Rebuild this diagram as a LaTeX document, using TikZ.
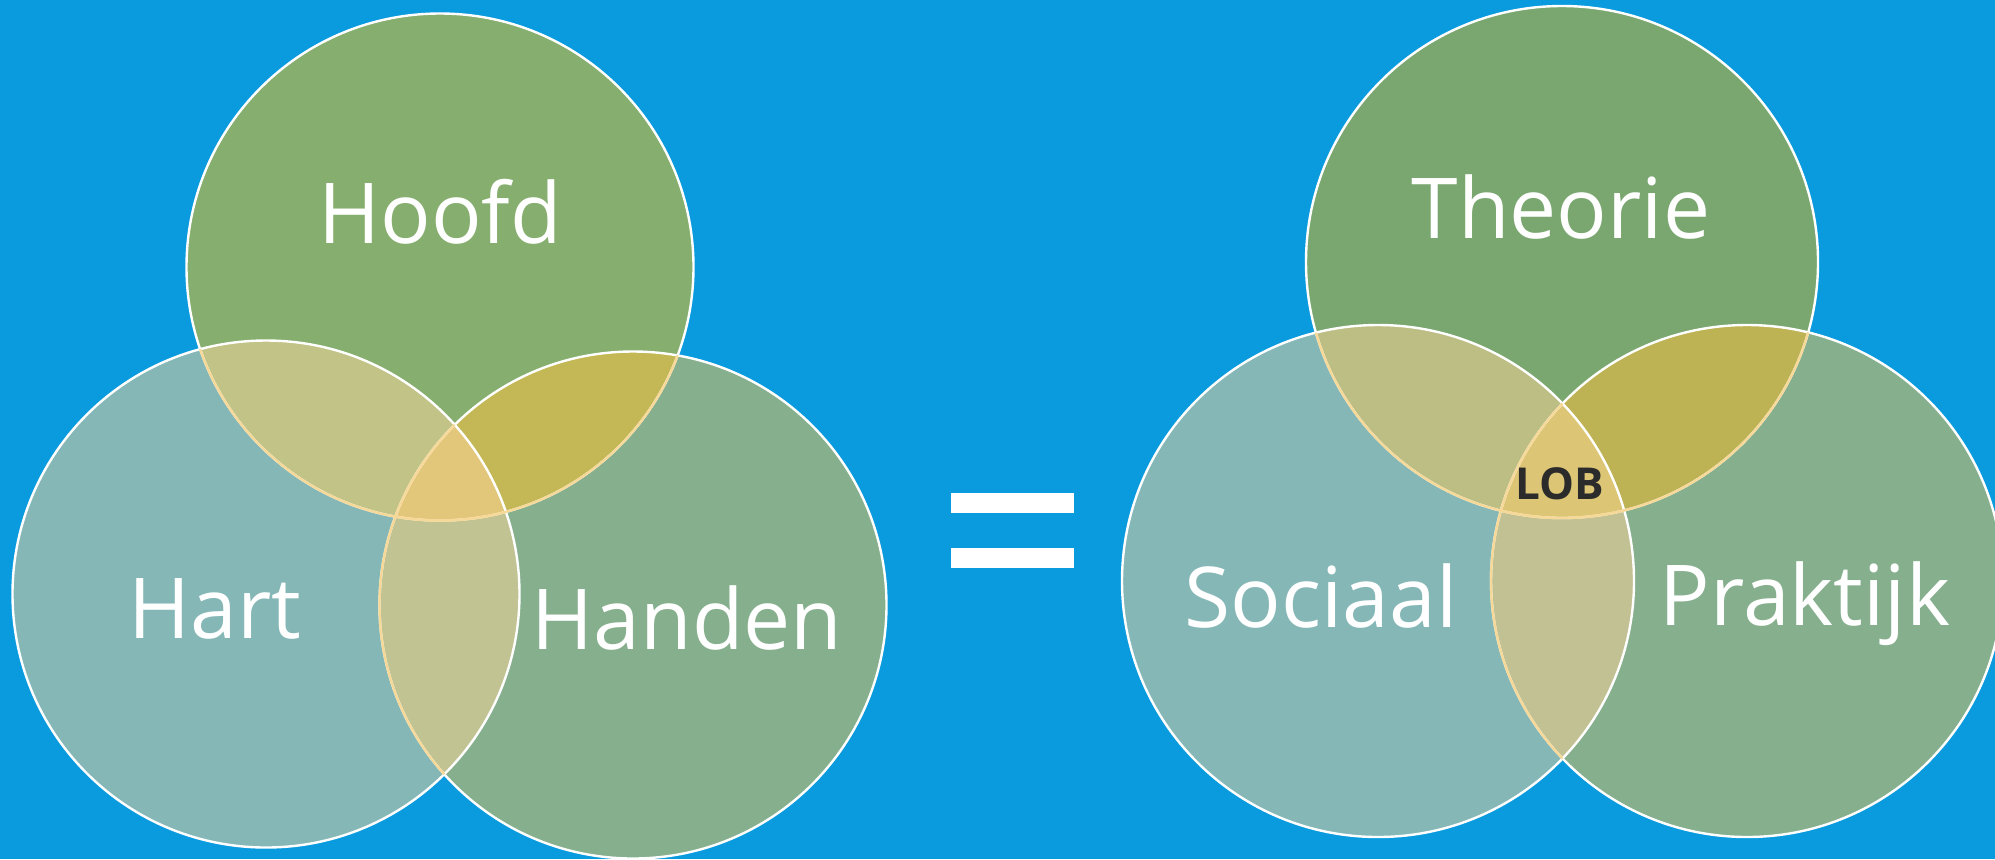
\documentclass[tikz,border=0pt]{standalone}
\usepackage{fontspec}
\setmainfont{Open Sans}

\definecolor{bgblue}{HTML}{0A9BDF}
\definecolor{rimcream}{HTML}{F6D998}
% left diagram
\definecolor{hoofdgreen}{HTML}{86AE6E}
\definecolor{hartteal}{HTML}{86B7B7}
\definecolor{handengreen}{HTML}{86AF8E}
\definecolor{hoofdhart}{HTML}{C2C387}
\definecolor{hoofdhanden}{HTML}{C3B855}
\definecolor{harthanden}{HTML}{C1C393}
\definecolor{allthree}{HTML}{E2C77A}
% right diagram
\definecolor{theoriegreen}{HTML}{79A76F}
\definecolor{theoriesociaal}{HTML}{BCBE84}
\definecolor{theoriepraktijk}{HTML}{BDB254}
\definecolor{sociaalpraktijk}{HTML}{C2C193}
\definecolor{lobgold}{HTML}{DCC574}

\begin{document}
\begin{tikzpicture}[x=0.5pt,y=-0.5pt,
    venntext/.style={text=white,anchor=base,font=\fontsize{42}{50}\selectfont},
    lobtext/.style={text=black!83,anchor=base,font=\bfseries\fontsize{22}{26}\selectfont},
    rim/.style={draw=white,line width=1.2pt},
    creamrim/.style={draw=rimcream,line width=1.2pt}]
    \useasboundingbox[fill=bgblue] (0,0) rectangle (1995,859);
    \def\rl{126.75pt}
    \def\rr{128pt}
    % circle centres
    \coordinate (hoofd) at (440,267);
    \coordinate (hart) at (266,594);
    \coordinate (handen) at (633,605);
    \coordinate (theorie) at (1562,262);
    \coordinate (sociaal) at (1378,581);
    \coordinate (praktijk) at (1747,581);
    % Left diagram: single circles
    \fill[hoofdgreen] (hoofd) circle[radius=\rl];
    \fill[hartteal] (hart) circle[radius=\rl];
    \fill[handengreen] (handen) circle[radius=\rl];
    % Left diagram: overlaps
    \begin{scope}
      \clip (hoofd) circle[radius=\rl];
      \fill[hoofdhart] (hart) circle[radius=\rl];
      \fill[hoofdhanden] (handen) circle[radius=\rl];
    \end{scope}
    \begin{scope}
      \clip (hart) circle[radius=\rl];
      \fill[harthanden] (handen) circle[radius=\rl];
      \clip (handen) circle[radius=\rl];
      \fill[allthree] (hoofd) circle[radius=\rl];
    \end{scope}
    % Right diagram: single circles
    \fill[theoriegreen] (theorie) circle[radius=\rr];
    \fill[hartteal] (sociaal) circle[radius=\rr];
    \fill[handengreen] (praktijk) circle[radius=\rr];
    % Right diagram: overlaps
    \begin{scope}
      \clip (theorie) circle[radius=\rr];
      \fill[theoriesociaal] (sociaal) circle[radius=\rr];
      \fill[theoriepraktijk] (praktijk) circle[radius=\rr];
    \end{scope}
    \begin{scope}
      \clip (sociaal) circle[radius=\rr];
      \fill[sociaalpraktijk] (praktijk) circle[radius=\rr];
      \clip (praktijk) circle[radius=\rr];
      \fill[lobgold] (theorie) circle[radius=\rr];
    \end{scope}
    % White rims
    \foreach \c in {hoofd,hart,handen} {
      \draw[rim] (\c) circle[radius=\rl];
    }
    \foreach \c in {theorie,sociaal,praktijk} {
      \draw[rim] (\c) circle[radius=\rr];
    }
    % Rims that lie under another circle look cream
    \foreach \c in {hart,handen} {
      \begin{scope}
        \clip (\c) circle[radius=\rl];
        \draw[creamrim] (hoofd) circle[radius=\rl];
      \end{scope}
    }
    \begin{scope}
      \clip (hart) circle[radius=\rl];
      \draw[creamrim] (handen) circle[radius=\rl];
    \end{scope}
    \foreach \c in {sociaal,praktijk} {
      \begin{scope}
        \clip (\c) circle[radius=\rr];
        \draw[creamrim] (theorie) circle[radius=\rr];
      \end{scope}
    }
    \begin{scope}
      \clip (sociaal) circle[radius=\rr];
      \draw[creamrim] (praktijk) circle[radius=\rr];
    \end{scope}
    % Equals sign
    \fill[white] (951,493) rectangle (1074,513);
    \fill[white] (951,548) rectangle (1074,568);
    % Labels
    \node[venntext] (hoofdtext) at (440,243) {Hoofd};
    \node[venntext] (harttext) at (215,638) {Hart};
    \node[venntext] (handentext) at (687,649) {Handen};
    \node[venntext] (theorietext) at (1561,238) {Theorie};
    \node[venntext] (sociaaltext) at (1321,627) {Sociaal};
    \node[venntext] (praktijktext) at (1805,625) {Praktijk};
    \node[lobtext] (lob) at (1560,499) {LOB};
\end{tikzpicture}
\end{document}
